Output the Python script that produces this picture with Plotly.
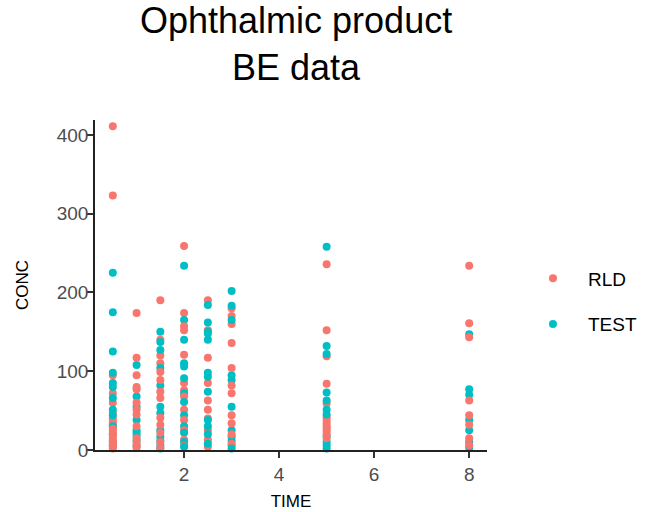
import plotly.graph_objects as go

TIMES = [0.5, 1, 1.5, 2, 2.5, 3, 5, 8]
RLD = {
    0.5: [411, 323, 95, 72, 60, 47, 40, 36, 33, 30, 27, 24, 21, 18, 15, 12, 9, 6, 4, 2],
    1: [174, 117, 95, 80, 77, 60, 51, 45, 30, 15, 10, 6, 3],
    1.5: [190, 140, 120, 110, 99, 89, 74, 66, 41, 32, 22, 10, 3],
    2: [259, 174, 157, 152, 121, 85, 76, 68, 51, 38, 25, 13, 5],
    2.5: [190, 152, 117, 85, 63, 51, 40, 25, 13, 4],
    3: [180, 170, 160, 136, 104, 82, 72, 44, 34, 20, 8],
    5: [236, 152, 119, 84, 59, 42, 38, 34, 30, 27, 24, 20, 15],
    8: [234, 161, 143, 63, 44, 32, 15, 6],
}
TEST = {
    0.5: [225, 175, 125, 98, 85, 80, 66, 51, 44, 30, 20, 10, 6],
    1: [108, 68, 55, 38, 25, 22, 18, 12, 5],
    1.5: [150, 137, 127, 104, 82, 55, 47, 25, 17, 12, 6, 2],
    2: [234, 165, 140, 110, 106, 91, 72, 61, 44, 30, 22, 10, 4],
    2.5: [184, 162, 150, 148, 140, 98, 93, 74, 38, 30, 20, 8],
    3: [202, 183, 165, 95, 89, 55, 25, 17, 12, 6, 2],
    5: [258, 132, 122, 73, 63, 51, 45, 17, 10, 6, 2],
    8: [147, 77, 70, 38, 25, 10, 3],
}
GROUPS = ["RLD", "TEST"]
COLORS = {"RLD": "#F8766D", "TEST": "#00BFC4"}
X_TICKS = [2, 4, 6, 8]
Y_TICKS = [0, 100, 200, 300, 400]

# interleave the two formulations so that drawing order mixes colours
xs, ys, cs = [], [], []
for t in TIMES:
    r, s = RLD[t], TEST[t]
    for i in range(max(len(r), len(s))):
        if i < len(r):
            xs.append(t); ys.append(r[i]); cs.append(COLORS["RLD"])
        if i < len(s):
            xs.append(t); ys.append(s[i]); cs.append(COLORS["TEST"])

FONT = "Liberation Sans, Arial, Helvetica, sans-serif"

fig = go.Figure()
fig.add_trace(go.Scatter(x=xs, y=ys, mode="markers", showlegend=False,
                         marker=dict(color=cs, size=8, line=dict(width=0)),
                         cliponaxis=False, hoverinfo="x+y"))
for g in GROUPS:
    fig.add_trace(go.Scatter(x=[None], y=[None], mode="markers", name=g,
                             legendgroup=g,
                             marker=dict(color=COLORS[g], size=8)))

fig.update_layout(
    width=646, height=512,
    margin=dict(l=95, r=159, t=120, b=62, autoexpand=False),
    plot_bgcolor="white", paper_bgcolor="white",
    font=dict(family=FONT, color="black"),
    title=dict(text="Ophthalmic product<br>BE data", x=0.513, xref="paper",
               xanchor="center", y=0.935, yanchor="top",
               font=dict(size=36, color="black", family=FONT)),
    legend=dict(x=1.079, xanchor="left", y=0.45, yanchor="middle",
                font=dict(size=19, color="black"), itemwidth=60,
                tracegroupgap=18, bgcolor="rgba(0,0,0,0)"),
)
fig.update_xaxes(range=[0.125, 8.375], tickvals=X_TICKS, automargin=False,
                 showgrid=False, zeroline=False,
                 showline=True, linecolor="#222", linewidth=1.5,
                 ticks="outside", ticklen=6, tickcolor="#333", tickwidth=1.5,
                 tickfont=dict(size=19, color="#4d4d4d"),
                 title=dict(text="TIME", font=dict(size=17, color="black"), standoff=12))
fig.update_yaxes(range=[0, 419], tickvals=Y_TICKS, automargin=False,
                 showgrid=False, zeroline=False,
                 showline=True, linecolor="#222", linewidth=1.5,
                 ticks="outside", ticklen=6, tickcolor="#333", tickwidth=1.5,
                 ticklabelstandoff=-5,
                 tickfont=dict(size=19, color="#4d4d4d"),
                 title=dict(text="CONC", font=dict(size=17, color="black"), standoff=24))

fig.write_html("out.html")
